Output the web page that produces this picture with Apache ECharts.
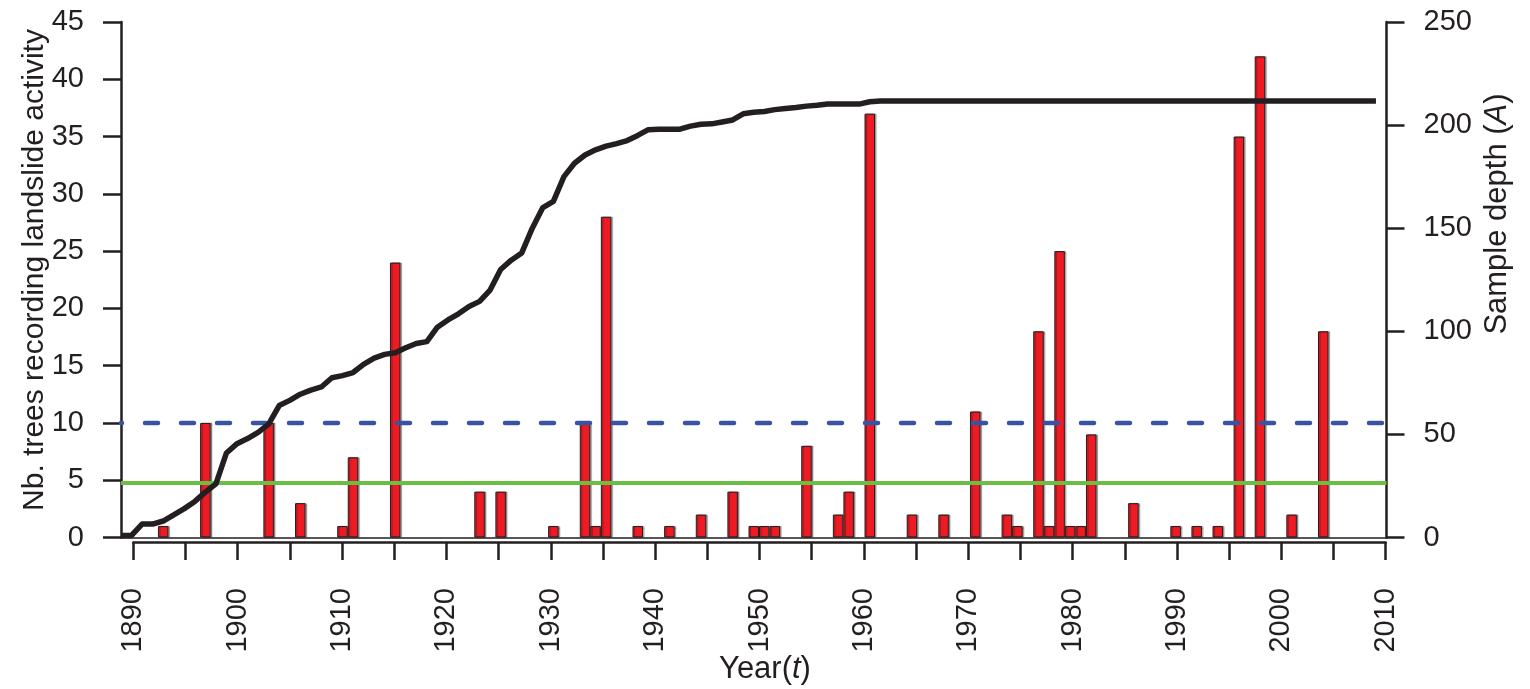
<!DOCTYPE html>
<html>
<head>
<meta charset="utf-8">
<script src="https://cdn.jsdelivr.net/npm/echarts/dist/echarts.min.js"></script>
<style>
html,body{margin:0;padding:0;background:#fff;}
#chart{width:1530px;height:689px;}
</style>
</head>
<body>
<div id="chart"></div>
<script>
// ---- data ----
const barYears = [1893,1897,1903,1906,1910,1911,1915,1923,1925,1930,1933,1934,1935,1938,1941,1944,1947,
  1949,1950,1951,1954,1957,1958,1960,1964,1967,1970,1973,1974,1976,1977,1978,1979,1980,1981,1985,1989,
  1991,1993,1995,1997,2000,2003];
const treeCounts = [1,10,10,3,1,7,24,4,4,1,10,1,28,1,1,2,4,
  1,1,1,8,2,4,37,2,2,11,2,1,18,1,25,1,1,9,3,1,
  1,1,35,42,2,18];

const depthYears = [1889,1890,1891,1892,1893,1894,1895,1896,1897,1898,1899,1900,1901,1902,1903,1904,1905,
  1906,1907,1908,1909,1910,1911,1912,1913,1914,1915,1916,1917,1918,1919,1920,1921,1922,1923,1924,1925,
  1926,1927,1928,1929,1930,1931,1932,1933,1934,1935,1936,1937,1938,1939,1940,1941,1942,1943,1944,1945,
  1946,1947,1948,1949,1950,1951,1952,1953,1954,1955,1956,1957,1958,1959,1960,1961,2008];
const sampleDepth = [1,1,6.5,6.5,8,11,14,17.5,22,26,41,45.5,48,51,55,64,66.5,
  69.5,71.5,73,77.5,78.5,80,84,87,88.8,89.6,92,94.1,95,102,105.5,108.5,112,114.5,120,130,
  134.5,138,150,160,163,175,181.5,185.5,188,189.8,191,192.5,195,197.8,198,198,198,199.5,200.4,200.6,
  201.5,202.5,205.5,206.2,206.6,207.5,208,208.5,209.2,209.6,210.2,210.2,210.2,210.2,211.3,211.7,211.7];

const dataRange = [1889, 2009];     // range of the plotted data
const tickRange = [1890, 2010];     // range of the labelled year axis
const threshold10 = 10;             // dashed blue threshold (trees)
const threshold5 = 4.75;            // green threshold (trees)
const leftTicks = [0, 45, 5];
const rightTicks = [0, 250, 50];

const FONT = '"Liberation Sans", Arial, Helvetica, sans-serif';
const INK = '#231f20';

const chart = echarts.init(document.getElementById('chart'), null, {renderer: 'canvas'});

const axisLineStyle = {color: INK, width: 2.5};

const option = {
  animation: false,
  backgroundColor: '#fff',
  grid: [
    {left: 121, top: 22, width: 1265.5, height: 515.5},
    {left: 133.3, top: 22, width: 1252.4, height: 520}
  ],
  xAxis: [
    {
      gridIndex: 0, type: 'value', min: dataRange[0], max: dataRange[1],
      axisLine: {show: true, onZero: false, lineStyle: {color: INK, width: 1.5}},
      axisTick: {show: false}, axisLabel: {show: false}, splitLine: {show: false}
    },
    {
      gridIndex: 1, type: 'value', min: tickRange[0], max: tickRange[1], interval: 5,
      axisLine: {show: true, onZero: false, lineStyle: axisLineStyle},
      axisTick: {show: true, length: 18, lineStyle: axisLineStyle},
      axisLabel: {
        rotate: 90, margin: 46, fontSize: 29, fontFamily: FONT, color: INK,
        formatter: v => (v % 10 === 0 ? String(v) : '')
      },
      splitLine: {show: false}
    }
  ],
  yAxis: [
    {
      gridIndex: 0, type: 'value', position: 'left',
      min: leftTicks[0], max: leftTicks[1], interval: leftTicks[2],
      axisLine: {show: true, lineStyle: axisLineStyle},
      axisTick: {show: true, length: 18, lineStyle: axisLineStyle},
      axisLabel: {margin: 37, fontSize: 29, fontFamily: FONT, color: INK},
      splitLine: {show: false}
    },
    {
      gridIndex: 0, type: 'value', position: 'right',
      min: rightTicks[0], max: rightTicks[1], interval: rightTicks[2],
      axisLine: {show: true, lineStyle: axisLineStyle},
      axisTick: {show: true, length: 18, lineStyle: axisLineStyle},
      axisLabel: {margin: 37, fontSize: 29, fontFamily: FONT, color: INK},
      splitLine: {show: false}
    },
    {gridIndex: 1, type: 'value', show: false, min: 0, max: 1}
  ],
  series: [
    {
      type: 'bar', xAxisIndex: 0, yAxisIndex: 0,
      data: barYears.map((y, i) => [y, treeCounts[i]]),
      barWidth: 10.5,
      itemStyle: {
        color: '#ed1c24', borderColor: INK, borderWidth: 1,
        shadowColor: 'rgba(0,0,0,0.35)', shadowOffsetX: 1.5, shadowBlur: 1
      },
      z: 2
    },
    {
      type: 'line', xAxisIndex: 0, yAxisIndex: 0, symbol: 'none',
      data: [[dataRange[0], threshold5], [dataRange[1], threshold5]],
      lineStyle: {color: '#6abd45', width: 4},
      z: 3
    },
    {
      type: 'line', xAxisIndex: 0, yAxisIndex: 0, symbol: 'none',
      data: [[dataRange[0], threshold10], [dataRange[1], threshold10]],
      lineStyle: {color: '#3953a4', width: 4.5, type: [13, 23], dashOffset: 12, cap: 'round'},
      z: 4
    },
    {
      type: 'line', xAxisIndex: 0, yAxisIndex: 1, symbol: 'none',
      data: depthYears.map((y, i) => [y, sampleDepth[i]]),
      lineStyle: {color: INK, width: 5.5, join: 'round', cap: 'butt'},
      z: 5
    }
  ],
  graphic: [
    {
      type: 'text', x: 35, y: 270, rotation: Math.PI / 2,
      style: {
        text: 'Nb. trees recording landslide activity',
        fontSize: 30, fontFamily: FONT, fill: INK, align: 'center', verticalAlign: 'middle'
      }
    },
    {
      type: 'text', x: 1497, y: 214, rotation: Math.PI / 2,
      style: {
        text: 'Sample depth ({i|A})',
        fontSize: 31, fontFamily: FONT, fill: INK, align: 'center', verticalAlign: 'middle',
        rich: {i: {fontStyle: 'italic', fontSize: 31, fontFamily: FONT, fill: INK}}
      }
    },
    {
      type: 'text', x: 765, y: 669,
      style: {
        text: 'Year({i|t})',
        fontSize: 31, fontFamily: FONT, fill: INK, align: 'center', verticalAlign: 'middle',
        rich: {i: {fontStyle: 'italic', fontSize: 31, fontFamily: FONT, fill: INK}}
      }
    }
  ]
};
chart.setOption(option);
</script>
</body>
</html>
